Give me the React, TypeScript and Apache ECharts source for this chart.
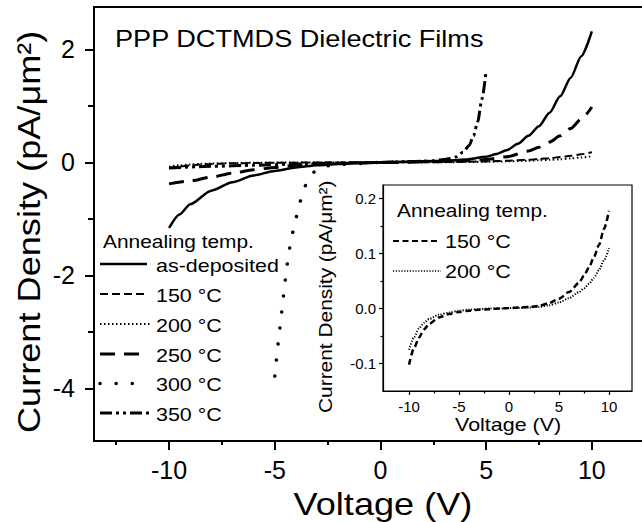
import React, { useEffect, useRef } from "react";
import * as echarts from "echarts";

const FONT = "Liberation Sans";
const SX = 1.13; // horizontal stretch of the figure's lettering

// ---- main plot axes ----
const mainXMajor = [-10, -5, 0, 5, 10];
const mainXMinor = [-12.5, -7.5, -2.5, 2.5, 7.5, 12.5];
const mainYMajor = [-4, -2, 0, 2];
const mainYMinor = [-3, -1, 1];

// ---- inset axes ----
const insetXMajor = [-10, -5, 0, 5, 10];
const insetXMinor = [-7.5, -2.5, 2.5, 7.5];
const insetYMajor = [-0.1, 0, 0.1, 0.2];
const insetYMinor = [-0.05, 0.05, 0.15];

// ---- data (Voltage V, Current density pA/um^2) ----
const asDepV = [-10, -9.5, -9, -8, -7, -6, -5, -4, -3, -2, -1, 0, 1, 2, 3, 4, 5, 5.5, 6, 6.5, 7, 7.5, 8, 8.5, 9, 9.5, 10];
const asDepJ = [-1.16, -0.92, -0.74, -0.5, -0.35, -0.23, -0.15, -0.09, -0.05, -0.03, -0.01, 0, 0.01, 0.02, 0.03, 0.05, 0.1, 0.15, 0.22, 0.33, 0.47, 0.64, 0.88, 1.17, 1.5, 1.88, 2.32];

const t150V = [-10, -9.5, -9, -8.5, -8, -7, -6, -5, -4, -3, -2, -1, 0, 1, 2, 3, 4, 5, 6, 7, 7.5, 8, 8.5, 9, 9.5, 10];
const t150J = [-0.102, -0.072, -0.053, -0.038, -0.028, -0.016, -0.01, -0.006, -0.004, -0.002, -0.001, 0, 0.001, 0.002, 0.003, 0.005, 0.01, 0.018, 0.03, 0.047, 0.06, 0.075, 0.094, 0.116, 0.145, 0.178];

const t200V = [-10, -9.5, -9, -8.5, -8, -7, -6, -5, -4, -3, -2, -1, 0, 1, 2, 3, 4, 5, 6, 7, 7.5, 8, 8.5, 9, 9.5, 10];
const t200J = [-0.075, -0.052, -0.036, -0.026, -0.019, -0.011, -0.007, -0.004, -0.002, -0.001, 0, 0, 0.001, 0.001, 0.002, 0.003, 0.006, 0.011, 0.019, 0.03, 0.037, 0.045, 0.056, 0.07, 0.088, 0.11];

const t250V = [-10, -9, -8, -7, -6, -5, -4, -3, -2, -1, 0, 1, 2, 3, 4, 5, 6, 7, 7.5, 8, 8.5, 9, 9.5, 10];
const t250J = [-0.38, -0.33, -0.26, -0.19, -0.13, -0.09, -0.05, -0.03, -0.02, -0.01, 0, 0, 0.01, 0.02, 0.03, 0.05, 0.1, 0.2, 0.27, 0.36, 0.47, 0.6, 0.77, 0.98];

const t300V = [-5.0, -4.9, -4.78, -4.66, -4.54, -4.41, -4.25, -4.0, -3.8, -3.6, -3.4, -3.1, -2.7, -2, -1, 0, 1, 2, 3];
const t300J = [-3.78, -3.4, -3.0, -2.6, -2.2, -1.8, -1.4, -1.0, -0.7, -0.45, -0.3, -0.15, -0.07, -0.04, -0.02, 0, 0.01, 0.02, 0.03];

const t350V = [-10, -8, -6, -4, -2, 0, 1, 2, 2.5, 3, 3.3, 3.6, 3.9, 4.2, 4.4, 4.6, 4.8, 5.0];
const t350J = [-0.1, -0.07, -0.05, -0.03, -0.01, 0, 0.01, 0.02, 0.03, 0.05, 0.07, 0.1, 0.18, 0.3, 0.47, 0.72, 1.12, 1.63];

const legendLabels = ["as-deposited", "150 °C", "200 °C", "250 °C", "300 °C", "350 °C"];
const insetLegendLabels = ["150 °C", "200 °C"];

const zip = (v: number[], j: number[]) => v.map((x, i) => [x, j[i]]);

const dashes: Record<string, { type: any; width: number; cap?: string }> = {
  "as-deposited": { type: "solid", width: 2.5 },
  "150 °C": { type: [8, 4], width: 2 },
  "200 °C": { type: [1.5, 2.5], width: 2 },
  "250 °C": { type: [15, 9], width: 3 },
  "300 °C": { type: [0.1, 16], width: 3.5, cap: "round" },
  "350 °C": { type: [12, 4, 3, 4, 3, 4], width: 3 },
};

function xAxisCfg(grid: number, min: number, max: number, ticks: number[], len: number, labels: boolean, fs: number, margin: number, lw: number, showLine: boolean) {
  return {
    type: "value",
    gridIndex: grid,
    min,
    max,
    position: "bottom",
    axisLine: { show: showLine, onZero: false, lineStyle: { color: "#000", width: lw } },
    axisTick: { show: true, inside: false, length: len, customValues: ticks, lineStyle: { color: "#000", width: lw } },
    axisLabel: labels
      ? { show: true, customValues: ticks, margin, fontSize: fs, fontFamily: FONT, color: "#000" }
      : { show: false },
    splitLine: { show: false },
  };
}

function yAxisCfg(grid: number, min: number, max: number, ticks: number[], len: number, labels: boolean, fs: number, margin: number, lw: number, showLine: boolean, fmt?: (v: number) => string) {
  return {
    type: "value",
    gridIndex: grid,
    min,
    max,
    position: "left",
    axisLine: { show: showLine, onZero: false, lineStyle: { color: "#000", width: lw } },
    axisTick: { show: true, inside: false, length: len, customValues: ticks, lineStyle: { color: "#000", width: lw } },
    axisLabel: labels
      ? { show: true, customValues: ticks, margin, fontSize: fs, fontFamily: FONT, color: "#000", formatter: fmt }
      : { show: false },
    splitLine: { show: false },
  };
}

export default function App() {
  const ref = useRef<HTMLDivElement>(null);
  useEffect(() => {
    if (!ref.current) return;
    const chart = echarts.init(ref.current, undefined, { renderer: "svg" });

    const mainData: Record<string, number[][]> = {
      "as-deposited": zip(asDepV, asDepJ),
      "150 °C": zip(t150V, t150J),
      "200 °C": zip(t200V, t200J),
      "250 °C": zip(t250V, t250J),
      "300 °C": zip(t300V, t300J),
      "350 °C": zip(t350V, t350J),
    };

    const series: any[] = legendLabels.map((name) => ({
      name,
      type: "line",
      xAxisIndex: 0,
      yAxisIndex: 0,
      data: mainData[name],
      symbol: "none",
      smooth: name === "300 °C" ? false : 0.25,
      smoothMonotone: "x",
      lineStyle: { color: "#000", type: dashes[name].type, width: dashes[name].width, cap: dashes[name].cap || "butt" },
      silent: true,
    }));

    series.push({
      name: "inset150",
      type: "line",
      xAxisIndex: 2,
      yAxisIndex: 2,
      data: zip(t150V, t150J),
      symbol: "none",
      smooth: 0.25,
      smoothMonotone: "x",
      lineStyle: { color: "#000", type: [6, 3.5], width: 2.5 },
      silent: true,
    });
    series.push({
      name: "inset200",
      type: "line",
      xAxisIndex: 2,
      yAxisIndex: 2,
      data: zip(t200V, t200J),
      symbol: "none",
      smooth: 0.25,
      smoothMonotone: "x",
      lineStyle: { color: "#000", type: [1.2, 1.6], width: 2 },
      silent: true,
    });

    const graphic: any[] = [];
    const txt = (text: string, x: number, y: number, fs: number, align = "left", rotation = 0) => ({
      type: "text",
      x,
      y,
      rotation,
      scaleX: SX,
      silent: true,
      style: { text, fontSize: fs, fontFamily: FONT, fill: "#000", align, verticalAlign: "middle" },
    });
    const seg = (x1: number, x2: number, y: number, d: { type: any; width: number; cap?: string }) => ({
      type: "line",
      silent: true,
      shape: { x1, y1: y, x2, y2: y },
      style: {
        stroke: "#000",
        lineWidth: d.width,
        lineDash: d.type === "solid" ? null : d.type,
        lineCap: d.cap || "butt",
      },
    });

    // main title
    graphic.push(txt("PPP DCTMDS Dielectric Films", 115, 39, 24));
    // main legend
    graphic.push(txt("Annealing temp.", 103, 241.5, 18.5));
    const rowY = [264, 294, 324, 354, 383.5, 413];
    const lineEnds = [147, 147, 152, 145, 142, 152];
    legendLabels.forEach((name, i) => {
      graphic.push(seg(100, lineEnds[i], rowY[i], dashes[name]));
      graphic.push(txt(name, 156, rowY[i] + 1, 19));
    });
    // inset legend
    graphic.push(txt("Annealing temp.", 397, 210.5, 18.5));
    graphic.push(seg(393, 440, 241, { type: [6, 3.5], width: 2 }));
    graphic.push(txt(insetLegendLabels[0], 445, 241.5, 19));
    graphic.push(seg(393, 441, 271, { type: [1.2, 1.6], width: 1.6 }));
    graphic.push(txt(insetLegendLabels[1], 445, 271.5, 19));

    // axis titles
    graphic.push(txt("Voltage (V)", 383, 503.5, 32, "center"));
    graphic.push(txt("Current Density (pA/μm²)", 28.5, 433, 32, "left", Math.PI / 2));
    graphic.push(txt("Voltage (V)", 455, 424.5, 19));
    graphic.push(txt("Current Density (pA/μm²)", 325, 413, 18.5, "left", Math.PI / 2));

    chart.setOption({
      animation: false,
      backgroundColor: "#fff",
      grid: [
        { left: 94, top: 7, right: -2.7, bottom: 81, show: true, borderColor: "#000", borderWidth: 2, backgroundColor: "transparent", containLabel: false, outerBoundsMode: "none" },
        { left: 383, top: 185, right: 10, bottom: 131, show: true, borderColor: "#000", borderWidth: 1.2, backgroundColor: "#fff", containLabel: false, outerBoundsMode: "none" },
      ],
      xAxis: [
        xAxisCfg(0, -13.55, 12.5, mainXMajor, 9, true, 25, 16, 2, true),
        xAxisCfg(0, -13.55, 12.5, mainXMinor, 4, false, 25, 16, 2, false),
        xAxisCfg(1, -12.6, 12.3, insetXMajor, 4, true, 15, 8, 1.2, true),
        xAxisCfg(1, -12.6, 12.3, insetXMinor, 2.5, false, 15, 8, 1.2, false),
      ],
      yAxis: [
        yAxisCfg(0, -4.93, 2.75, mainYMajor, 9, true, 25, 19, 2, true),
        yAxisCfg(0, -4.93, 2.75, mainYMinor, 6, false, 25, 19, 2, false),
        yAxisCfg(1, -0.15, 0.225, insetYMajor, 4, true, 15, 7, 1.2, true, (v: number) => v.toFixed(1)),
        yAxisCfg(1, -0.15, 0.225, insetYMinor, 2.5, false, 15, 7, 1.2, false),
      ],
      series,
      graphic,
    } as any);

    return () => chart.dispose();
  }, []);

  return <div ref={ref} style={{ position: "absolute", left: 0, top: 0, width: 642, height: 522 }} />;
}
